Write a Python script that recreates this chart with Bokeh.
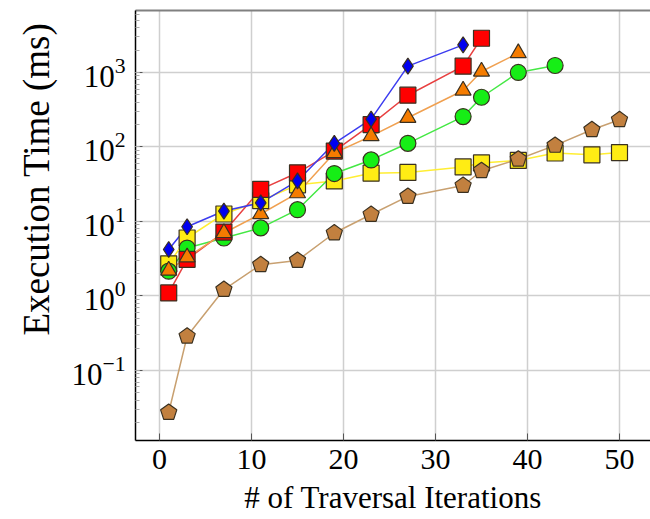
from bokeh.plotting import figure
from bokeh.models import Range1d, LinearAxis, FixedTicker, Title
from bokeh.embed import file_html
from bokeh.resources import INLINE

# ---- data ----
blue_x = [1, 3, 7, 11, 15, 19, 23, 27, 33]
blue_y = [4.2, 8.5, 13.8, 17.8, 35, 112, 236, 1215, 2350]

red_x = [1, 3, 7, 11, 15, 19, 23, 27, 33, 35]
red_y = [1.1, 3.1, 7.2, 27, 45, 88, 199, 495, 1215, 2880]

orange_x = [1, 3, 7, 11, 15, 19, 23, 27, 33, 35, 39]
orange_y = [2.2, 3.3, 7.0, 12.6, 24, 83, 140, 247, 573, 1031, 1820]

green_x = [1, 3, 7, 11, 15, 19, 23, 27, 33, 35, 39, 43]
green_y = [2.15, 4.4, 6.0, 8.2, 14.4, 44, 67, 112, 256, 465, 1000, 1240]

yellow_x = [1, 3, 7, 11, 15, 19, 23, 27, 33, 35, 39, 43, 47, 50]
yellow_y = [2.7, 6.0, 12.6, 19, 31, 35, 44.5, 45.5, 54, 61, 66, 83, 78.5, 84]

brown_x = [1, 3, 7, 11, 15, 19, 23, 27, 33, 35, 39, 43, 47, 50]
brown_y = [0.0273, 0.288, 1.22, 2.62, 3.0, 7.0, 12.4, 21.7, 30.4, 48, 68.5, 105, 170, 232]

x_ticks = [0, 10, 20, 30, 40, 50]
x_label = "# of Traversal Iterations"
y_label = "Execution Time (ms)"

FONT = "Liberation Serif"
OUT = "#3a3020"

p = figure(width=650, height=519, output_backend="svg", toolbar_location=None,
           y_axis_type="log",
           x_range=Range1d(-2.61, 53.37), y_range=Range1d(0.01148, 6790),
           min_border_left=135, min_border_top=10, min_border_right=0,
           min_border_bottom=79)
p.outline_line_color = None
p.background_fill_color = "white"
p.border_fill_color = "white"

xa = p.below[0]
ya = p.left[0]

# top border
top = LinearAxis(ticker=FixedTicker(ticks=[]), major_tick_line_color=None,
                 minor_tick_line_color=None, axis_line_color="#808080",
                 axis_line_width=2, major_label_standoff=0)
p.add_layout(top, "above")

xa.ticker = FixedTicker(ticks=x_ticks)
xa.axis_label = x_label
for ax in (xa, ya):
    ax.axis_label_text_font = FONT
    ax.major_label_text_font = FONT
    ax.axis_label_text_font_style = "normal"
    ax.axis_label_text_color = "black"
    ax.major_label_text_color = "black"
    ax.axis_line_color = "black"
    ax.axis_line_width = 1.5
    ax.major_tick_in = 7
    ax.major_tick_out = 0
    ax.major_tick_line_color = "#555555"
    ax.minor_tick_in = 4
    ax.minor_tick_out = 0
    ax.minor_tick_line_color = "#aaaaaa"
xa.minor_tick_line_color = None
xa.major_label_text_font_size = "30px"
xa.axis_label_text_font_size = "31px"
xa.major_label_standoff = 9
xa.axis_label_standoff = 8
ya.major_label_text_font_size = "31px"
ya.major_label_standoff = 10

ytitle = Title(text=y_label, align="right", offset=12, text_font=FONT,
               text_font_size="37px", text_font_style="normal",
               text_color="black", standoff=24)
p.add_layout(ytitle, "left")

p.xgrid.grid_line_color = "#cfcfcf"
p.ygrid.grid_line_color = "#cfcfcf"
p.xgrid.grid_line_width = 1.5
p.ygrid.grid_line_width = 1.5

# lines
p.line(yellow_x, yellow_y, line_color="#ffee33", line_width=1.5)
p.line(green_x, green_y, line_color="#44e844", line_width=1.5)
p.line(red_x, red_y, line_color="#e84040", line_width=1.5)
p.line(orange_x, orange_y, line_color="#f0a050", line_width=1.5)
p.line(blue_x, blue_y, line_color="#3c3cf0", line_width=1.5)
p.line(brown_x, brown_y, line_color="#c8a070", line_width=1.5)

# markers
p.scatter(yellow_x, yellow_y, marker="square", size=16, fill_color="#ffec14",
          line_color=OUT, line_width=1.2)
p.scatter(green_x, green_y, marker="circle", size=16, fill_color="#16ee16",
          line_color=OUT, line_width=1.2)
p.scatter(red_x, red_y, marker="square", size=16, fill_color="#ff0000",
          line_color=OUT, line_width=1.2)
p.scatter(orange_x, orange_y, marker="triangle", size=16, fill_color="#f57c00",
          line_color=OUT, line_width=1.2)
p.scatter(blue_x, blue_y, marker="diamond", size=16, fill_color="#0000f0",
          line_color=OUT, line_width=1.2)
p.ngon(brown_x, brown_y, radius=8.5, radius_units="screen", n=5,
       fill_color="#c2803f", line_color=OUT, line_width=1.2)

open("out.html", "w").write(file_html(p, INLINE))
